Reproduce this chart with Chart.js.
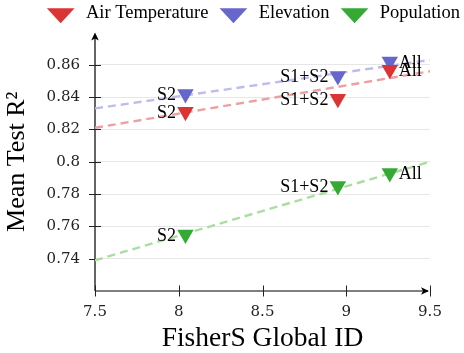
<!DOCTYPE html>
<html>
<head>
<meta charset="utf-8">
<script src="https://cdn.jsdelivr.net/npm/chart.js@4.4.0/dist/chart.umd.min.js"></script>
<style>
  html, body { margin: 0; padding: 0; background: #fff; }
</style>
</head>
<body>
<canvas id="chart" width="464" height="353"></canvas>
<script>
// données
const runLabels = ['S2', 'S1+S2', 'All'];
const fisherId = [8.04, 8.95, 9.26];
const airTemp = [0.831, 0.839, 0.857];
const elevation = [0.842, 0.853, 0.862];
const population = [0.755, 0.785, 0.793];

// droites de tendance (extrémités à 7.5 et 9.5)
const trendX = [7.5, 9.5];
const airTrend = [0.821, 0.856];
const elevTrend = [0.833, 0.863];
const popTrend = [0.739, 0.800];

const xTicks = [7.5, 8, 8.5, 9, 9.5];
const yTicks = [0.74, 0.76, 0.78, 0.8, 0.82, 0.84, 0.86];

const serif = 'Liberation Serif';

function points(xs, ys) {
    return xs.map((x, i) => ({ x: x, y: ys[i] }));
}

function markerSet(label, values, color) {
    return {
        label: label,
        data: points(fisherId, values),
        pointStyle: 'triangle',
        rotation: 180,
        pointRadius: 9.5,
        pointHoverRadius: 9.5,
        backgroundColor: color,
        borderColor: color,
        borderWidth: 0,
        order: 0
    };
}

function trendSet(values, color) {
    return {
        label: '_trend',
        data: points(trendX, values),
        showLine: true,
        borderColor: color,
        borderWidth: 2.4,
        borderDash: [8, 5],
        pointRadius: 0,
        fill: false,
        order: 1
    };
}

// axes avec flèches et graduations qui traversent l'axe
const axesPlugin = {
    id: 'axesArrows',
    beforeDatasetsDraw(chart) {
        const ctx = chart.ctx;
        const { left, right, top, bottom } = chart.chartArea;
        const xs = chart.scales.x, ys = chart.scales.y;
        ctx.save();
        ctx.strokeStyle = '#000';
        ctx.fillStyle = '#000';
        ctx.lineWidth = 1.2;
        ctx.beginPath();
        ctx.moveTo(left, bottom);
        ctx.lineTo(left, top + 2);
        ctx.moveTo(left, bottom);
        ctx.lineTo(right - 2, bottom);
        ctx.stroke();

        ctx.lineWidth = 1;
        ctx.strokeStyle = '#222';
        ctx.beginPath();
        xTicks.forEach(v => {
            const px = Math.round(xs.getPixelForValue(v)) + 0.5;
            ctx.moveTo(px, bottom - 5.5);
            ctx.lineTo(px, bottom + 5.5);
        });
        yTicks.forEach(v => {
            const py = Math.round(ys.getPixelForValue(v)) + 0.5;
            ctx.moveTo(left - 6, py);
            ctx.lineTo(left + 6, py);
        });
        ctx.stroke();

        // pointes de flèche
        ctx.beginPath();
        ctx.moveTo(left, top);
        ctx.lineTo(left - 3.8, top + 8);
        ctx.lineTo(left, top + 6);
        ctx.lineTo(left + 3.8, top + 8);
        ctx.closePath();
        ctx.moveTo(right - 1, bottom);
        ctx.lineTo(right - 9, bottom - 3.8);
        ctx.lineTo(right - 7, bottom);
        ctx.lineTo(right - 9, bottom + 3.8);
        ctx.closePath();
        ctx.fill();
        ctx.restore();
    }
};

// étiquettes S2 / S1+S2 / All à côté des marqueurs
const labelPlugin = {
    id: 'pointLabels',
    afterDatasetsDraw(chart) {
        const ctx = chart.ctx;
        ctx.save();
        ctx.font = '18px "' + serif + '"';
        ctx.fillStyle = '#000';
        ctx.textBaseline = 'middle';
        chart.data.datasets.forEach((ds, di) => {
            if (ds.showLine) return;
            const meta = chart.getDatasetMeta(di);
            meta.data.forEach((el, i) => {
                const txt = runLabels[i];
                if (txt === 'All') {
                    ctx.textAlign = 'left';
                    ctx.fillText(txt, el.x + 9, el.y + 1.5);
                } else {
                    ctx.textAlign = 'right';
                    ctx.fillText(txt, el.x - 9.5, el.y + 1.5);
                }
            });
        });
        ctx.restore();
    }
};

new Chart(document.getElementById('chart'), {
    type: 'scatter',
    data: {
        datasets: [
            markerSet('Air Temperature', airTemp, 'rgb(218, 52, 52)'),
            markerSet('Elevation', elevation, 'rgb(102, 102, 204)'),
            markerSet('Population', population, 'rgb(52, 170, 52)'),
            trendSet(airTrend, 'rgba(238, 160, 160, 1)'),
            trendSet(elevTrend, 'rgba(188, 188, 238, 1)'),
            trendSet(popTrend, 'rgba(170, 222, 160, 1)')
        ]
    },
    options: {
        responsive: false,
        animation: false,
        devicePixelRatio: 1,
        layout: { padding: { top: -5, right: -5, left: 0, bottom: 0 } },
        plugins: {
            tooltip: { enabled: false },
            legend: {
                position: 'top',
                align: 'end',
                labels: {
                    usePointStyle: true,
                    pointStyleWidth: 32,
                    boxHeight: 14,
                    padding: 9,
                    color: '#000',
                    font: { family: serif, size: 18.5 },
                    filter: (item, data) => !data.datasets[item.datasetIndex].showLine
                }
            }
        },
        scales: {
            x: {
                type: 'linear',
                min: 7.5,
                max: 9.5,
                afterBuildTicks: s => { s.ticks = xTicks.map(v => ({ value: v })); },
                afterFit: s => { s.height = 62; s.paddingRight = 34; },
                grid: { display: false, drawTicks: false },
                border: { display: false },
                ticks: {
                    padding: 12,
                    color: '#222',
                    font: { family: 'DejaVu Serif', size: 15 },
                    callback: v => String(v)
                },
                title: {
                    display: true,
                    text: 'FisherS Global ID',
                    color: '#000',
                    font: { family: serif, size: 27.5, lineHeight: 1 },
                    padding: { top: 0, bottom: 0 }
                }
            },
            y: {
                type: 'linear',
                min: 0.72,
                max: 0.88,
                afterBuildTicks: s => { s.ticks = yTicks.map(v => ({ value: v })); },
                afterFit: s => { s.width = 95; },
                grid: { color: '#e6e6e6', lineWidth: 1, drawTicks: false },
                border: { display: false },
                ticks: {
                    padding: 15,
                    color: '#222',
                    font: { family: 'DejaVu Serif', size: 15 },
                    callback: v => String(+v.toFixed(2))
                },
                title: {
                    display: true,
                    text: 'Mean Test R²',
                    color: '#000',
                    font: { family: serif, size: 26 },
                    padding: { top: 2, bottom: 0 }
                }
            }
        }
    },
    plugins: [axesPlugin, labelPlugin]
});
</script>
</body>
</html>
